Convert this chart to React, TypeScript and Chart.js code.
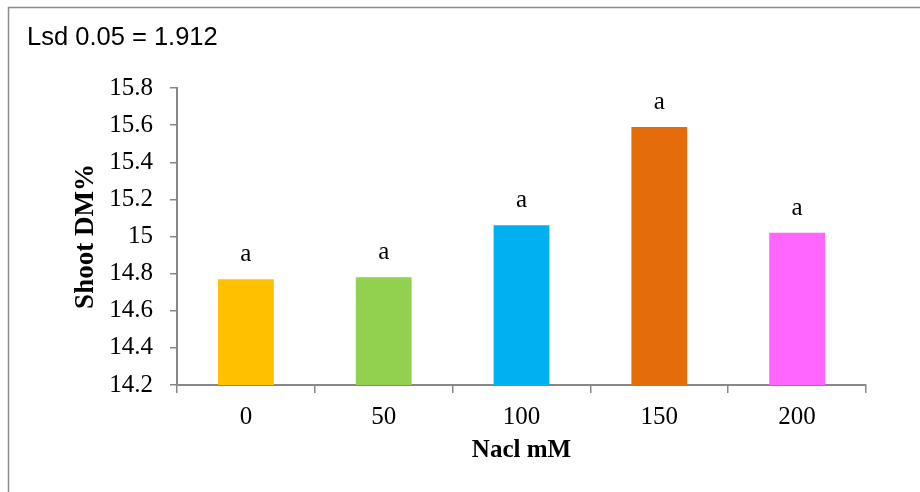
import React, { useEffect, useRef } from "react";
import { Chart, registerables } from "chart.js";

Chart.register(...registerables);

const categories = ["0", "50", "100", "150", "200"];
const values = [14.77, 14.78, 15.06, 15.59, 15.02];
const barColors = ["#FFC000", "#92D050", "#00B0F0", "#E46C0A", "#FF66FF"];
const letters = ["a", "a", "a", "a", "a"];
const yMin = 14.2;
const yMax = 15.8;
const yStep = 0.2;
const lsdText = "Lsd 0.05 = 1.912";
const xTitle = "Nacl mM";
const yTitle = "Shoot DM%";

const AXIS = "#888888";
const SERIF = '"Liberation Serif", "Times New Roman", serif';

const decorPlugin = {
  id: "decor",
  beforeDraw(chart: any) {
    const ctx = chart.ctx;
    ctx.save();
    ctx.strokeStyle = "#8c8c8c";
    ctx.lineWidth = 1.5;
    ctx.beginPath();
    ctx.moveTo(8.5, 492);
    ctx.lineTo(8.5, 7.5);
    ctx.lineTo(920, 7.5);
    ctx.stroke();
    ctx.restore();
  },
  afterDraw(chart: any) {
    const ctx = chart.ctx;
    ctx.save();
    ctx.fillStyle = "#000";
    ctx.font = '25.5px "Liberation Sans", Arial, sans-serif';
    ctx.textBaseline = "alphabetic";
    ctx.textAlign = "left";
    ctx.fillText(lsdText, 27, 45);

    const meta = chart.getDatasetMeta(0);
    ctx.font = `25px ${SERIF}`;
    ctx.textAlign = "center";
    meta.data.forEach((bar: any, i: number) => {
      ctx.fillText(letters[i], bar.x, bar.y - 18);
    });
    ctx.restore();
  },
};

export default function App() {
  const ref = useRef<HTMLCanvasElement | null>(null);
  useEffect(() => {
    if (!ref.current) return;
    const chart = new Chart(ref.current, {
      type: "bar",
      data: {
        labels: categories,
        datasets: [
          {
            data: values,
            backgroundColor: barColors,
            borderWidth: 0,
            categoryPercentage: 1,
            barPercentage: 0.405,
          },
        ],
      },
      options: {
        animation: false,
        responsive: false,
        devicePixelRatio: 1,
        layout: { padding: { top: 88, right: 54, left: 0, bottom: 0 } },
        plugins: {
          legend: { display: false },
          tooltip: { enabled: false },
        },
        scales: {
          x: {
            offset: true,
            grid: {
              offset: true,
              drawOnChartArea: false,
              drawTicks: true,
              tickLength: 8,
              color: AXIS,
              lineWidth: 1.5,
            },
            border: { display: true, color: AXIS, width: 2 },
            ticks: {
              color: "#000",
              font: { family: SERIF, size: 25 },
              padding: 9,
              maxRotation: 0,
            },
            title: {
              display: true,
              text: xTitle,
              color: "#000",
              font: { family: SERIF, size: 25, weight: "bold" },
              padding: { top: 0, bottom: 26 },
            },
            afterFit(scale: any) {
              scale.height = 107;
            },
          },
          y: {
            min: yMin,
            max: yMax,
            grid: {
              drawOnChartArea: false,
              drawTicks: true,
              tickLength: 7,
              color: AXIS,
              lineWidth: 1.5,
            },
            border: { display: true, color: AXIS, width: 2 },
            ticks: {
              stepSize: yStep,
              color: "#000",
              font: { family: SERIF, size: 25 },
              padding: 17,
              callback: (v: any) => String(Number(Number(v).toFixed(1))),
            },
            title: {
              display: true,
              text: yTitle,
              color: "#000",
              font: { family: SERIF, size: 27, weight: "bold" },
              padding: { top: 70, bottom: 0 },
            },
            afterFit(scale: any) {
              scale.width = 177;
            },
          },
        },
      },
      plugins: [decorPlugin],
    } as any);
    return () => chart.destroy();
  }, []);

  return (
    <div
      style={{
        position: "fixed",
        left: 0,
        top: 0,
        width: 920,
        height: 492,
        background: "#fff",
        overflow: "hidden",
      }}
    >
      <canvas ref={ref} width={920} height={492} style={{ display: "block" }} />
    </div>
  );
}
